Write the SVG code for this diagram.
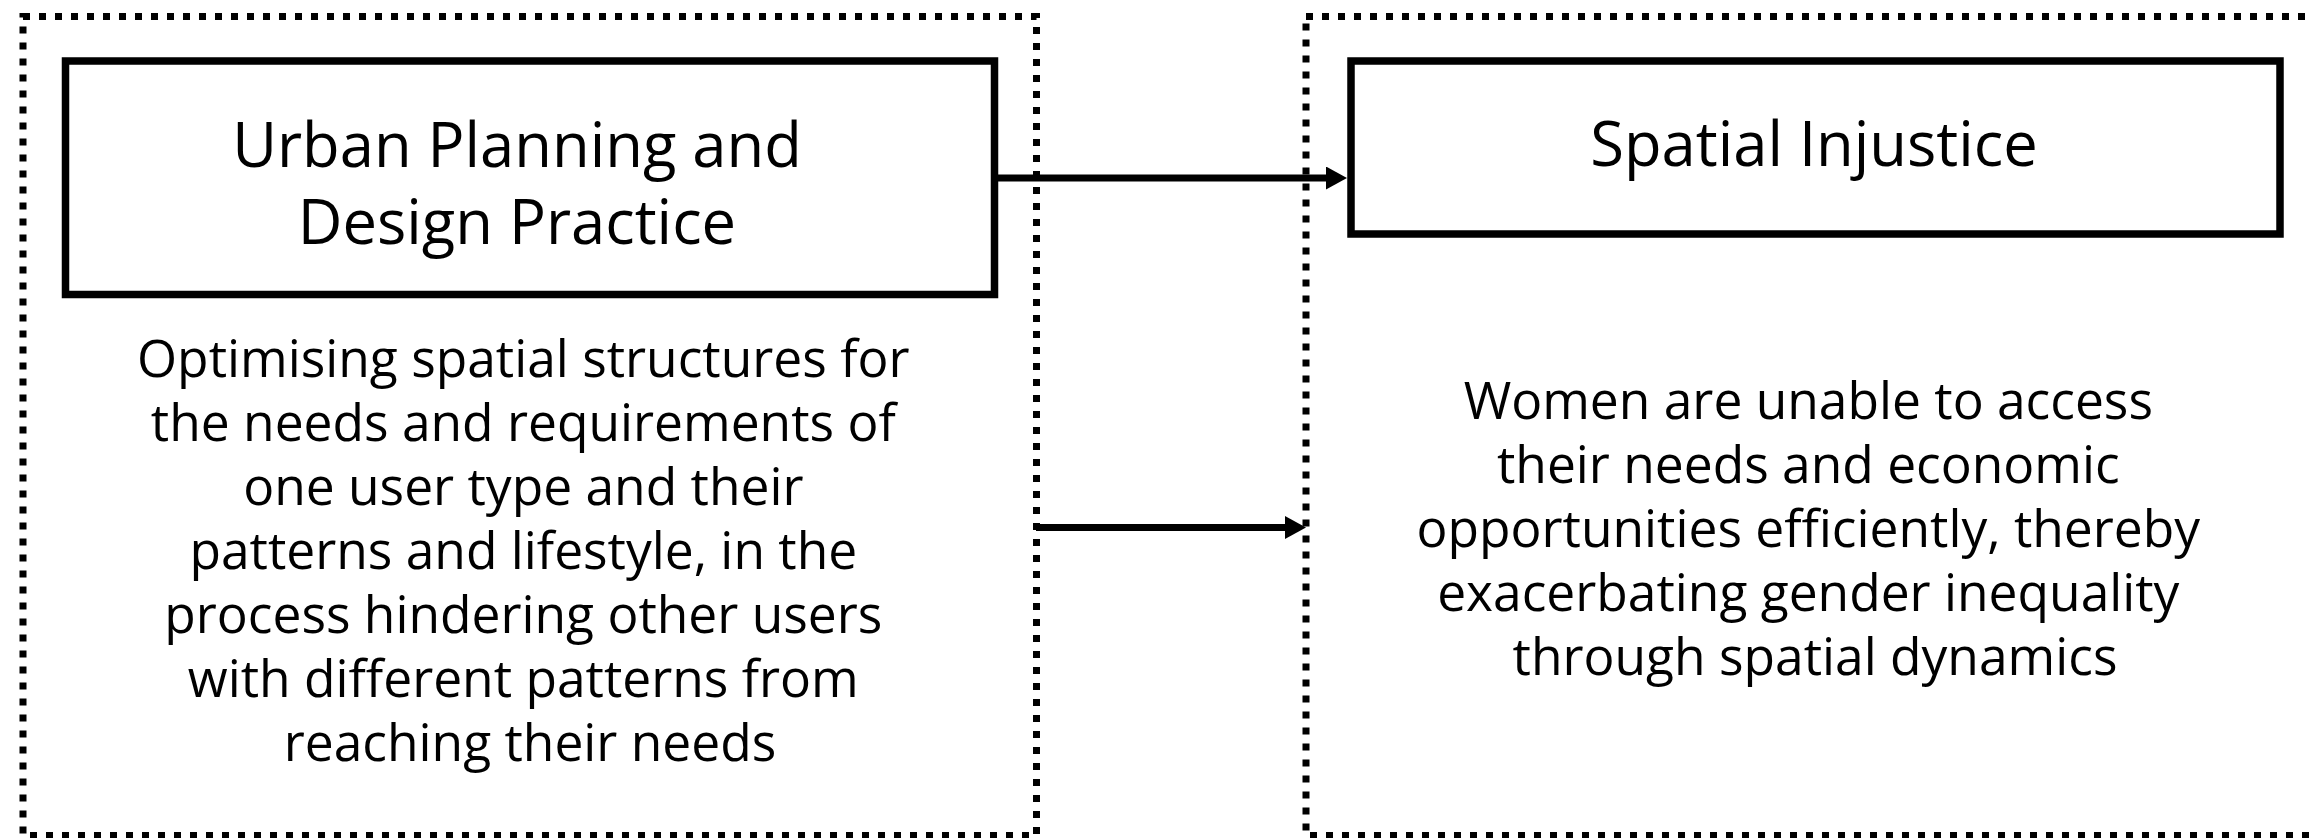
<svg xmlns="http://www.w3.org/2000/svg" width="2312" height="838" viewBox="0 0 2312 838">
  <style>
    .frame { fill: none; stroke: #000; stroke-width: 7; stroke-dasharray: 7 9; }
    .box { fill: #fff; stroke: #000; stroke-width: 7.5; }
    .title { font-family: "Open Sans", "Noto Sans", sans-serif; font-size: 61.5px; fill: #000; text-anchor: middle; }
    .body { font-family: "Open Sans", "Noto Sans", sans-serif; font-size: 51.5px; fill: #000; text-anchor: middle; }
    .link { stroke: #000; stroke-width: 7; fill: none; }
  </style>
  <defs>
    <marker id="head" markerUnits="userSpaceOnUse" markerWidth="21" markerHeight="23" refX="1" refY="11.5" orient="auto">
      <path d="M0,0 L21,11.5 L0,23 Z" fill="#000"/>
    </marker>
  </defs>

  <rect width="2312" height="838" fill="#fff"/>

  <!-- Left panel: planning practice -->
  <g id="practice">
    <rect class="frame" x="23" y="16.5" width="1013.5" height="819"/>
    <rect class="box" x="65.5" y="61" width="929" height="233.5"/>
    <text class="title" x="517" y="167">Urban Planning and</text>
    <text class="title" x="517" y="244">Design Practice</text>
    <text class="body" x="530">
      <tspan x="530" y="377">Optimising spatial structures for</tspan>
      <tspan x="530" y="441">the needs and requirements of</tspan>
      <tspan x="530" y="505">one user type and their</tspan>
      <tspan x="530" y="569">patterns and lifestyle, in the</tspan>
      <tspan x="530" y="633">process hindering other users</tspan>
      <tspan x="530" y="697">with different patterns from</tspan>
      <tspan x="530" y="761">reaching their needs</tspan>
    </text>
  </g>

  <!-- Right panel: outcome -->
  <g id="injustice">
    <rect class="frame" x="1306" y="16.5" width="1100" height="819"/>
    <rect class="box" x="1351" y="61" width="929" height="173"/>
    <text class="title" x="1814" y="166">Spatial Injustice</text>
    <text class="body" x="1815">
      <tspan x="1815" y="419">Women are unable to access</tspan>
      <tspan x="1815" y="483">their needs and economic</tspan>
      <tspan x="1815" y="547">opportunities efficiently, thereby</tspan>
      <tspan x="1815" y="611">exacerbating gender inequality</tspan>
      <tspan x="1815" y="675">through spatial dynamics</tspan>
    </text>
  </g>

  <!-- Connectors -->
  <g id="connectors">
    <line class="link" x1="998" y1="178" x2="1327" y2="178" marker-end="url(#head)"/>
    <line class="link" x1="1036" y1="527.5" x2="1286" y2="527.5" marker-end="url(#head)"/>
  </g>
</svg>
